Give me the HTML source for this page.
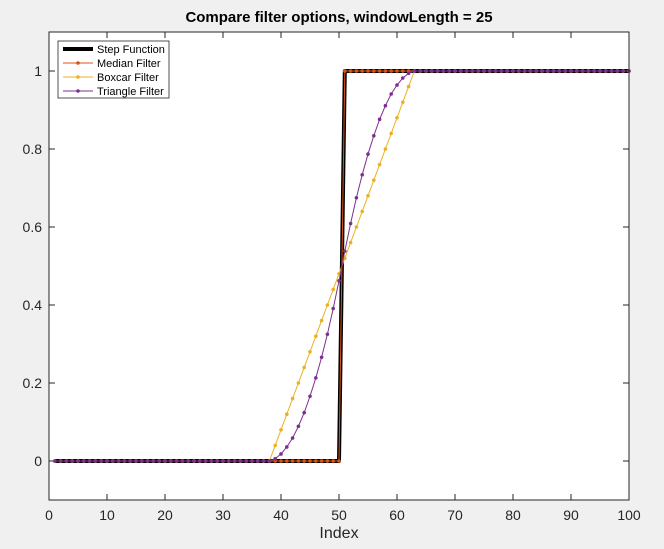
<!DOCTYPE html>
<html><head><meta charset="utf-8"><style>
body{margin:0;background:#f0f0f0;width:664px;height:549px;overflow:hidden}
svg{display:block;font-family:"Liberation Sans",sans-serif}
</style></head><body>
<svg id="chart" width="664" height="549">
<rect x="0" y="0" width="664" height="549" fill="#f0f0f0"/>
<rect x="49" y="32" width="580" height="468" fill="#fff"/>
<text x="339" y="22" text-anchor="middle" font-size="15" font-weight="bold" fill="#000">Compare filter options, windowLength = 25</text>
<g id="ticks"></g>
<g id="series"></g>
<rect x="49" y="32" width="580" height="468" fill="none" stroke="#262626" stroke-width="1"/>
<text x="339" y="538" text-anchor="middle" font-size="16" fill="#262626">Index</text>
<g>
<rect x="58" y="41" width="111" height="57" fill="#fff" stroke="#262626" stroke-width="0.8"/>
<g><line x1="63" y1="49" x2="93" y2="49" stroke="#000" stroke-width="4"/><text x="97" y="53" font-size="11">Step Function</text></g>
<g><line x1="63" y1="63" x2="93" y2="63" stroke="#D95319" stroke-width="1"/><circle cx="78" cy="63" r="1.8" fill="#D95319"/><text x="97" y="67" font-size="11">Median Filter</text></g>
<g><line x1="63" y1="77" x2="93" y2="77" stroke="#EDB120" stroke-width="1"/><circle cx="78" cy="77" r="1.8" fill="#EDB120"/><text x="97" y="81" font-size="11">Boxcar Filter</text></g>
<g><line x1="63" y1="91" x2="93" y2="91" stroke="#7E2F8E" stroke-width="1"/><circle cx="78" cy="91" r="1.8" fill="#7E2F8E"/><text x="97" y="95" font-size="11">Triangle Filter</text></g>
</g>
</svg>
<script>
const xTicks=[0,10,20,30,40,50,60,70,80,90,100];
const yTicks=[0,0.2,0.4,0.6,0.8,1];
const yTickLabels=["0","0.2","0.4","0.6","0.8","1"];
const stepValues=[0,0,0,0,0,0,0,0,0,0,0,0,0,0,0,0,0,0,0,0,0,0,0,0,0,0,0,0,0,0,0,0,0,0,0,0,0,0,0,0,0,0,0,0,0,0,0,0,0,0,1,1,1,1,1,1,1,1,1,1,1,1,1,1,1,1,1,1,1,1,1,1,1,1,1,1,1,1,1,1,1,1,1,1,1,1,1,1,1,1,1,1,1,1,1,1,1,1,1,1];
const medianValues=[0,0,0,0,0,0,0,0,0,0,0,0,0,0,0,0,0,0,0,0,0,0,0,0,0,0,0,0,0,0,0,0,0,0,0,0,0,0,0,0,0,0,0,0,0,0,0,0,0,0,1,1,1,1,1,1,1,1,1,1,1,1,1,1,1,1,1,1,1,1,1,1,1,1,1,1,1,1,1,1,1,1,1,1,1,1,1,1,1,1,1,1,1,1,1,1,1,1,1,1];
const boxcarValues=[0,0,0,0,0,0,0,0,0,0,0,0,0,0,0,0,0,0,0,0,0,0,0,0,0,0,0,0,0,0,0,0,0,0,0,0,0,0,0.04,0.08,0.12,0.16,0.2,0.24,0.28,0.32,0.36,0.4,0.44,0.48,0.52,0.56,0.6,0.64,0.68,0.72,0.76,0.8,0.84,0.88,0.92,0.96,1,1,1,1,1,1,1,1,1,1,1,1,1,1,1,1,1,1,1,1,1,1,1,1,1,1,1,1,1,1,1,1,1,1,1,1,1,1];
const triangleValues=[0,0,0,0,0,0,0,0,0,0,0,0,0,0,0,0,0,0,0,0,0,0,0,0,0,0,0,0,0,0,0,0,0,0,0,0,0,0,0.006,0.018,0.036,0.059,0.089,0.124,0.166,0.213,0.266,0.325,0.391,0.462,0.538,0.609,0.675,0.734,0.787,0.834,0.876,0.911,0.941,0.964,0.982,0.994,1,1,1,1,1,1,1,1,1,1,1,1,1,1,1,1,1,1,1,1,1,1,1,1,1,1,1,1,1,1,1,1,1,1,1,1,1,1];
const NS="http://www.w3.org/2000/svg";
const X=v=>49+v*5.8, Y=v=>461-v*390;
function mk(tag,attrs,parent){const e=document.createElementNS(NS,tag);for(const k in attrs)e.setAttribute(k,attrs[k]);parent.appendChild(e);return e;}
const tg=document.getElementById('ticks');
xTicks.forEach(t=>{
  const a=mk('line',{x1:X(t),x2:X(t),y1:500,y2:494,stroke:'#262626'},tg);
  
  
  const b=mk('line',{x1:X(t),x2:X(t),y1:32,y2:38,stroke:'#262626'},tg);
  
  
  const l=mk('text',{x:X(t),y:520,'text-anchor':'middle','font-size':14,fill:'#262626'},tg);
  l.textContent=t;
  
  
});
yTicks.forEach((t,i)=>{
  const a=mk('line',{x1:49,x2:55,y1:Y(t),y2:Y(t),stroke:'#262626'},tg);
  
  
  const b=mk('line',{x1:623,x2:629,y1:Y(t),y2:Y(t),stroke:'#262626'},tg);
  
  
  const l=mk('text',{x:42,y:Y(t)+5,'text-anchor':'end','font-size':14,fill:'#262626'},tg);
  l.textContent=yTickLabels[i];
  
  
});
const sg=document.getElementById('series');
function series(vals,color,w,dots,name){
  const g=mk('g',{},sg);
  
  
  const pts=vals.map((v,i)=>X(i+1)+','+Y(v)).join(' ');
  const p=mk('polyline',{points:pts,fill:'none',stroke:color,'stroke-width':w,'stroke-linejoin':'round'},g);
  
  
  if(dots)vals.forEach((v,i)=>{
    const c=mk('circle',{cx:X(i+1),cy:Y(v),r:1.8,fill:color},g);
    
    
  });
}
series(stepValues,'#000',4,false,'step-function-series');
series(medianValues,'#D95319',1,true,'median-filter-series');
series(boxcarValues,'#EDB120',1,true,'boxcar-filter-series');
series(triangleValues,'#7E2F8E',1,true,'triangle-filter-series');
</script>
</body></html>
